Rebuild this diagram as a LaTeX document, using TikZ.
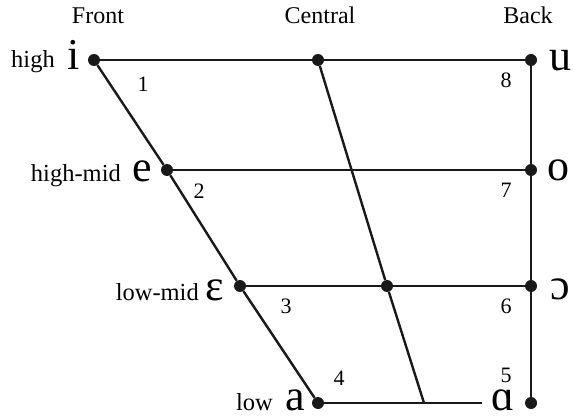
\documentclass[tikz,border=0pt]{standalone}
\usepackage{fontspec}
\setmainfont{Liberation Serif}
\begin{document}
\begin{tikzpicture}[x=1pt,y=-1pt,
  dot/.style={circle,fill=black!90,inner sep=0pt,minimum size=12pt},
  ln/.style={line width=2.4pt,draw=black!90},
  hdr/.style={font=\fontsize{24}{28}\selectfont,anchor=base,inner sep=0pt},
  lev/.style={font=\fontsize{24.5}{28}\selectfont,anchor=base east,inner sep=0pt},
  num/.style={font=\fontsize{22}{26}\selectfont,inner sep=0pt},
  vow/.style={font=\fontsize{44}{50}\selectfont,anchor=base,inner sep=0pt,text depth=0pt,text height=0.5em}]
\useasboundingbox (0,0) rectangle (573,417);
% dots
\node[dot] (i) at (94,60) {};
\node[dot] (c1) at (318,60) {};
\node[dot] (u) at (531,60) {};
\node[dot] (e) at (167,170) {};
\node[dot] (o) at (531,170) {};
\node[dot] (E) at (240,286) {};
\node[dot] (c3) at (387,286) {};
\node[dot] (O) at (531,286) {};
\node[dot] (a) at (318,403) {};
\node[dot] (A) at (531,403) {};
\coordinate (cb) at (424,403);
\coordinate (bend) at (482,403);
% lines
\draw[ln] (i) -- (u);
\draw[ln] (e) -- (o);
\draw[ln] (E) -- (O);
\draw[ln] (a) -- (bend);
\draw[ln] (i) -- (e) -- (E) -- (a);
\draw[ln] (c1) -- (c3) -- (cb);
\draw[ln] (u) -- (o) -- (O) -- (A);
% headers
\node[hdr] (hf) at (98,24) {Front};
\node[hdr] (hc) at (320,24) {Central};
\node[hdr] (hb) at (528,24) {Back};
% levels
\node[lev] (lh) at (55,68) {high};
\node[lev] (lhm) at (121,182) {high-mid};
\node[lev] (llm) at (199,300) {low-mid};
\node[lev] (ll) at (273,410) {low};
% vowels
\node[vow] (vi) at (74,70) {i};
\node[vow] (vu) at (560,71) {u};
\node[vow] (ve) at (142,182) {e};
\node[vow] (vo) at (558,181) {o};
\node[vow] (vE) at (215,300) {ɛ};
\node[vow] (vO) at (560,299) {ɔ};
\node[vow] (va) at (295,410) {a};
\node[vow] (vA) at (503,410) {ɑ};
% numbers
\node[num] (n1) at (143,84) {1};
\node[num] (n2) at (199,191) {2};
\node[num] (n3) at (286,306) {3};
\node[num] (n4) at (339,378) {4};
\node[num] (n5) at (506,375) {5};
\node[num] (n6) at (506,306) {6};
\node[num] (n7) at (506,190) {7};
\node[num] (n8) at (506,80) {8};
\end{tikzpicture}
\end{document}
